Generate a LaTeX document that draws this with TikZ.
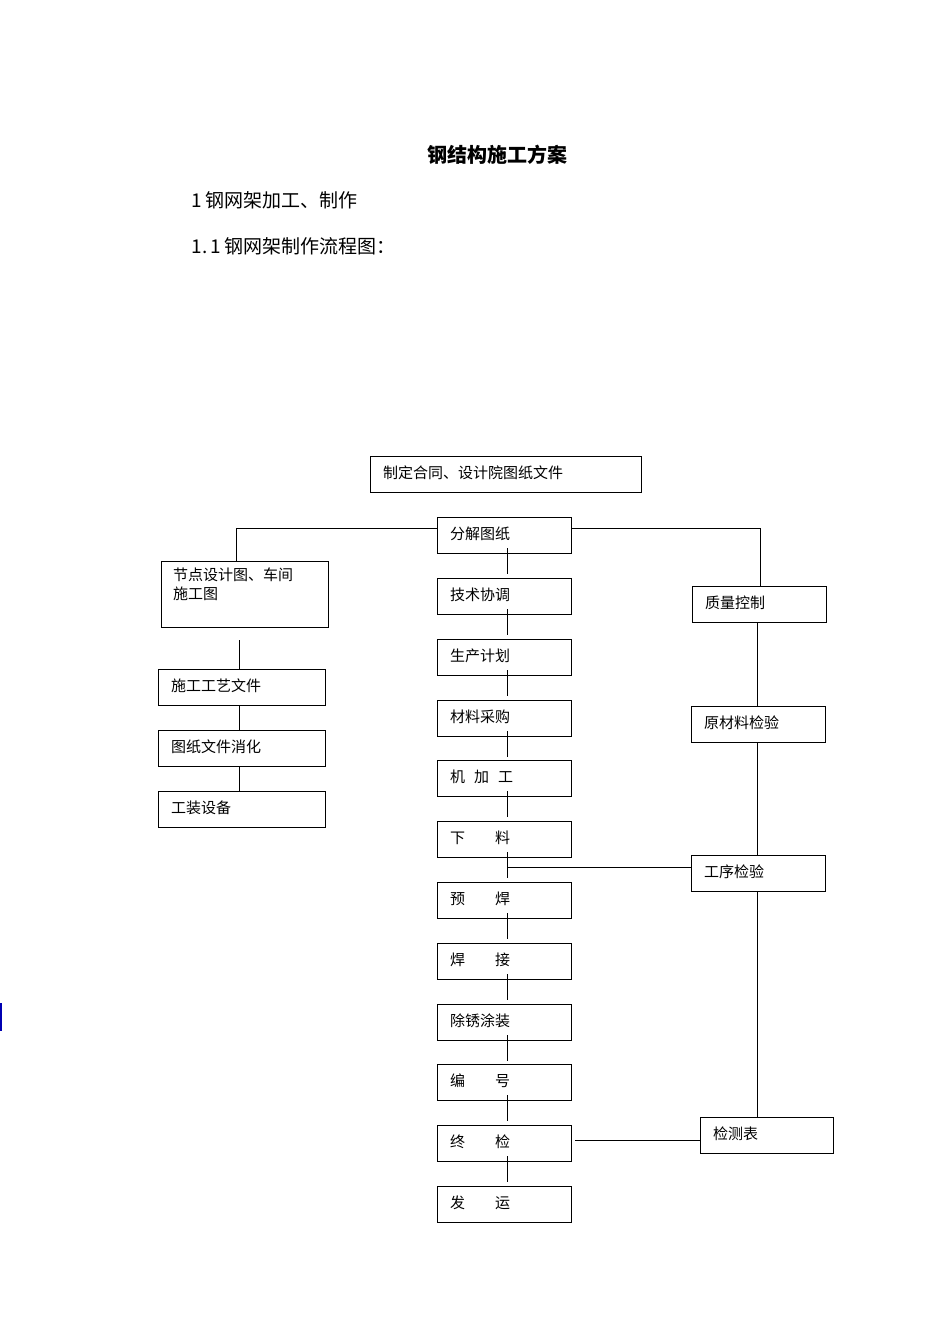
\documentclass[tikz,border=0pt]{standalone}
\usepackage{fontspec}
\setmainfont{Liberation Serif}
\newfontfamily\cjk{Noto Sans CJK SC}
\begin{document}
\begin{tikzpicture}[x=1pt,y=-1pt,
  bx/.style={draw,line width=0.8pt,inner sep=0pt},
  lb/.style={anchor=west,font=\cjk\fontsize{15}{18}\selectfont,inner sep=0pt},
  ln/.style={line width=0.8pt}]
\useasboundingbox (0,0) rectangle (950,1344);
\node[font=\cjk\fontsize{20}{24}\selectfont\bfseries] (title) at (497,155) {钢结构施工方案};
\node[anchor=west,font=\cjk\fontsize{19}{24}\selectfont] (h1) at (188,200) {1\,钢网架加工、制作};
\node[anchor=west,font=\cjk\fontsize{19}{24}\selectfont] (h2) at (188,246) {1.\,1\,钢网架制作流程图：};
\fill[blue!70!black] (0,1003) rectangle (2,1031);
\newcommand{\bbox}[6]{\draw[bx] (#2,#3) rectangle (#4,#5); \coordinate (#1) at (#2,#3); \node[lb] (#1t) at (#2+13,#3+17) {#6};}
\bbox{top}{370}{456}{641}{492}{制定合同、设计院图纸文件}
\bbox{c1}{437}{517}{571}{553}{分解图纸}
\bbox{c2}{437}{578}{571}{614}{技术协调}
\bbox{c3}{437}{639}{571}{675}{生产计划}
\bbox{c4}{437}{700}{571}{736}{材料采购}
\bbox{c5}{437}{760}{571}{796}{机\hspace{0.6em}加\hspace{0.6em}工}
\bbox{c6}{437}{821}{571}{857}{下\hspace{2em}料}
\bbox{c7}{437}{882}{571}{918}{预\hspace{2em}焊}
\bbox{c8}{437}{943}{571}{979}{焊\hspace{2em}接}
\bbox{c9}{437}{1004}{571}{1040}{除锈涂装}
\bbox{c10}{437}{1064}{571}{1100}{编\hspace{2em}号}
\bbox{c11}{437}{1125}{571}{1161}{终\hspace{2em}检}
\bbox{c12}{437}{1186}{571}{1222}{发\hspace{2em}运}
\draw[bx] (161,561) rectangle (328,627);
\node[lb,anchor=north west,align=left,font=\cjk\fontsize{15}{19}\selectfont] (l0) at (173,568) {节点设计图、车间\\施工图};
\bbox{l1}{158}{669}{325}{705}{施工工艺文件}
\bbox{l2}{158}{730}{325}{766}{图纸文件消化}
\bbox{l3}{158}{791}{325}{827}{工装设备}
\bbox{r1}{692}{586}{826}{622}{质量控制}
\bbox{r2}{691}{706}{825}{742}{原材料检验}
\bbox{r3}{691}{855}{825}{891}{工序检验}
\bbox{r4}{700}{1117}{833}{1153}{检测表}
\draw[ln] (236,561) -- (236,528) -- (437,528);
\draw[ln] (571,528) -- (760,528) -- (760,586);
\foreach \a in {553,614,675,736,796,857,918,979,1040,1100,1161}{\draw[ln] (507,\a-5) -- (507,\a+21);}
\draw[ln] (239,640) -- (239,669);
\draw[ln] (239,705) -- (239,730);
\draw[ln] (239,766) -- (239,791);
\draw[ln] (757,622) -- (757,706);
\draw[ln] (757,742) -- (757,855);
\draw[ln] (757,891) -- (757,1117);
\draw[ln] (507,867) -- (691,867);
\draw[ln] (575,1140) -- (700,1140);
\end{tikzpicture}
\end{document}
